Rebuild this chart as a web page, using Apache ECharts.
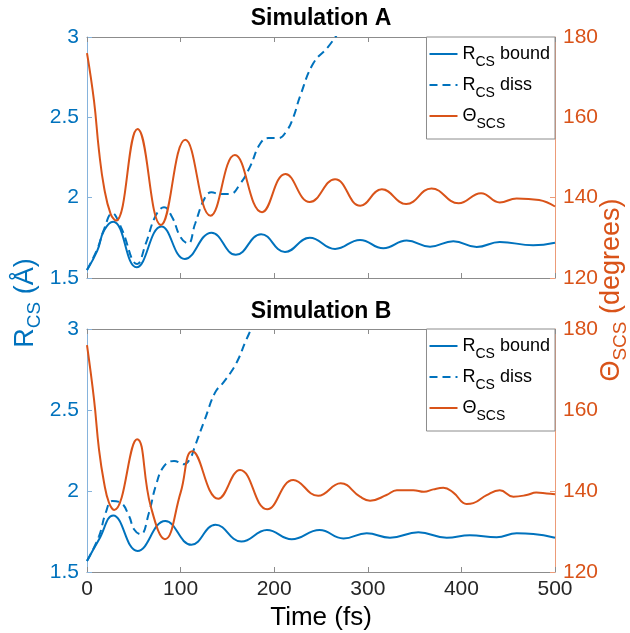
<!DOCTYPE html>
<html><head><meta charset="utf-8">
<script src="https://cdn.jsdelivr.net/npm/echarts@6/dist/echarts.min.js"></script>
<style>html,body{margin:0;padding:0;background:#fff}#c{width:630px;height:633px}</style>
</head><body><div id="c"></div>
<script>
// ---- data ----
const xTickValues = [0, 100, 200, 300, 400, 500];
const leftTickValues = [1.5, 2, 2.5, 3];
const rightTickValues = [120, 140, 160, 180];
const panelTitles = ['Simulation A', 'Simulation B'];
const seriesNames = ['R_CS bound', 'R_CS diss', 'Θ_SCS'];

// Simulation A
const aBoundT = [0, 11, 18.2, 28, 53, 79.5, 104.5, 133, 159, 186, 211.5, 238, 265, 291.7, 316.6, 341.5, 366.5, 391.4, 416.3, 441, 476.7, 500];
const aBoundV = [1.55, 1.67, 1.795, 1.85, 1.567, 1.821, 1.618, 1.782, 1.644, 1.773, 1.662, 1.751, 1.681, 1.737, 1.685, 1.733, 1.695, 1.729, 1.693, 1.724, 1.704, 1.72];
const aDissT = [0, 11, 18, 27, 36, 53.7, 62.7, 73.4, 82.3, 91, 100, 108, 115.4, 126, 133, 142, 152.8, 163.5, 174, 184.8, 193.7, 204.4, 213.4, 220.4, 227.6, 241.8, 257.8, 270];
const aDissV = [1.55, 1.68, 1.80, 1.903, 1.82, 1.587, 1.712, 1.888, 1.94, 1.878, 1.754, 1.715, 1.836, 2.0, 2.033, 2.023, 2.023, 2.085, 2.19, 2.334, 2.371, 2.371, 2.417, 2.50, 2.63, 2.836, 2.94, 3.04];
const aThetaT = [0, 7.5, 12.8, 18.2, 25.3, 31, 54, 79, 105, 132, 158, 187, 212, 238, 265, 292, 315, 341, 368, 397, 421, 441, 459, 483, 500];
const aThetaV = [176, 164.1, 151.7, 142.6, 135.9, 134.3, 157.1, 133.2, 154.4, 135.5, 150.6, 136.4, 145.9, 138.9, 144.6, 138.0, 142.1, 138.4, 142.3, 138.6, 141.1, 138.8, 139.8, 139.4, 137.8];

// Simulation B
const bBoundT = [0, 12.8, 28, 54, 83.6, 111.5, 137.3, 164.9, 192.3, 218.7, 248.5, 274, 298.8, 323.7, 354, 384.3, 409, 437.7, 459, 476.8, 500];
const bBoundV = [1.568, 1.70, 1.849, 1.63, 1.815, 1.668, 1.792, 1.688, 1.759, 1.702, 1.759, 1.707, 1.739, 1.712, 1.745, 1.712, 1.727, 1.714, 1.739, 1.735, 1.712];
const bDissT = [0, 12.8, 20, 27, 36, 44.9, 50.2, 57.3, 66.2, 73.4, 82.3, 93, 103.6, 110.7, 115.4, 126, 136.8, 145.6, 154.6, 161.6, 168.8, 176, 180];
const bDissV = [1.568, 1.72, 1.866, 1.938, 1.928, 1.846, 1.764, 1.733, 1.866, 2.03, 2.154, 2.185, 2.165, 2.206, 2.278, 2.443, 2.607, 2.669, 2.741, 2.813, 2.915, 3.008, 3.06];
const bThetaT = [0, 7.5, 12.8, 18.2, 23.5, 29, 53.5, 68, 83.3, 100, 112.5, 140.3, 163.5, 192.5, 220.4, 247, 271, 291.7, 302.4, 320, 331, 348.6, 360, 370, 380.7, 391.4, 405.6, 412.7, 427, 441, 455.5, 469.7, 480, 491, 500];
const bThetaV = [176, 162.6, 150.3, 142.1, 137.1, 135.3, 152.8, 136.3, 128.1, 139.6, 149.8, 138.1, 145.2, 135.5, 142.7, 138.8, 141.9, 138.6, 137.6, 139.0, 140.2, 140.2, 139.8, 140.4, 140.8, 139.6, 136.8, 137.0, 139.0, 140.2, 138.6, 139.0, 139.6, 139.4, 139.2];

// ---- chart ----
const FONT = '"Liberation Sans", Arial, Helvetica, sans-serif';
const BLUE = '#0072BD', ORANGE = '#D95319';
const BOX = '#8c8c8c', BLUE_AX = '#86b3dc', ORANGE_AX = '#ec9b78';
function pairs(t, v) { return t.map((x, i) => [x, v[i]]); }

const grids = [
  { left: 87, top: 37, width: 468, height: 241 },
  { left: 87, top: 329, width: 468, height: 243 }
];

function xAx(gi, pos, showLabels) {
  return {
    type: 'value', gridIndex: gi, position: pos,
    min: xTickValues[0], max: xTickValues[xTickValues.length - 1],
    interval: xTickValues[1] - xTickValues[0],
    axisLine: { show: true, onZero: false, lineStyle: { color: BOX, width: 1 } },
    axisTick: { show: true, inside: true, length: 5, lineStyle: { color: BOX } },
    axisLabel: { show: showLabels, color: '#262626', fontSize: 21, fontFamily: FONT, margin: 7 },
    splitLine: { show: false }
  };
}
function yAx(gi, pos, ticks, labelColor, lineColor) {
  return {
    type: 'value', gridIndex: gi, position: pos,
    min: ticks[0], max: ticks[ticks.length - 1], interval: ticks[1] - ticks[0],
    axisLine: { show: true, onZero: false, lineStyle: { color: lineColor, width: 1 } },
    axisTick: { show: true, inside: true, length: 5, lineStyle: { color: lineColor } },
    axisLabel: { color: labelColor, fontSize: 21, fontFamily: FONT, margin: 8 },
    splitLine: { show: false }
  };
}

const xAxis = [xAx(0, 'bottom', false), xAx(1, 'bottom', true), xAx(0, 'top', false), xAx(1, 'top', false)];
const yAxis = [
  yAx(0, 'left', leftTickValues, BLUE, BLUE_AX), yAx(0, 'right', rightTickValues, ORANGE, ORANGE_AX),
  yAx(1, 'left', leftTickValues, BLUE, BLUE_AX), yAx(1, 'right', rightTickValues, ORANGE, ORANGE_AX)
];

function line(name, xi, yi, data, color, dashed) {
  return {
    type: 'line', name: name, xAxisIndex: xi, yAxisIndex: yi, data: data,
    smooth: 0.45, symbol: 'none', clip: true,
    lineStyle: { color: color, width: 2, type: dashed ? [8, 5] : 'solid' },
    itemStyle: { color: color }
  };
}
const series = [
  line(seriesNames[0], 0, 0, pairs(aBoundT, aBoundV), BLUE, false),
  line(seriesNames[1], 0, 0, pairs(aDissT, aDissV), BLUE, true),
  line(seriesNames[2], 0, 1, pairs(aThetaT, aThetaV), ORANGE, false),
  line(seriesNames[0], 1, 2, pairs(bBoundT, bBoundV), BLUE, false),
  line(seriesNames[1], 1, 2, pairs(bDissT, bDissV), BLUE, true),
  line(seriesNames[2], 1, 3, pairs(bThetaT, bThetaV), ORANGE, false)
];

const legendRich = {
  m: { fontSize: 18, fontFamily: FONT, color: '#000', lineHeight: 30, verticalAlign: 'middle' },
  s: { fontSize: 14, fontFamily: FONT, color: '#000', lineHeight: 14, verticalAlign: 'bottom' }
};
function legendFmt(n) {
  const p = n.split('_');
  const rest = p[1].split(' ');
  return '{m|' + p[0] + '}{s|' + rest[0] + '}' + (rest[1] ? '{m| ' + rest[1] + '}' : '');
}
function legend(top) {
  return {
    data: seriesNames, orient: 'vertical', right: 75, top: top,
    backgroundColor: '#fff', borderColor: BOX, borderWidth: 1, borderRadius: 0,
    padding: [8, 5, 8, 2], itemGap: 7, itemWidth: 28, itemHeight: 14,
    itemStyle: { opacity: 0 },
    formatter: legendFmt,
    textStyle: { fontFamily: FONT, fontSize: 18, color: '#000', rich: legendRich },
    selectedMode: false
  };
}

function richLabel(x, y, main1, sub, main2, color) {
  return {
    type: 'text', x: x, y: y, rotation: Math.PI / 2, z: 100,
    style: {
      text: '{m|' + main1 + '}{s|' + sub + '}{m|' + main2 + '}',
      align: 'center', verticalAlign: 'middle', textAlign: 'center', textVerticalAlign: 'middle',
      fill: color,
      rich: {
        m: { fontSize: 27, fontFamily: FONT, fill: color, lineHeight: 36, verticalAlign: 'middle' },
        s: { fontSize: 19, fontFamily: FONT, fill: color, lineHeight: 19, verticalAlign: 'bottom' }
      }
    }
  };
}
function plainText(x, y, txt, size, weight) {
  return {
    type: 'text', x: x, y: y, z: 100,
    style: {
      text: txt, fill: '#000', font: weight + ' ' + size + 'px ' + FONT,
      align: 'center', verticalAlign: 'middle', textAlign: 'center', textVerticalAlign: 'middle'
    }
  };
}

const chart = echarts.init(document.getElementById('c'), null, { renderer: 'canvas' });
chart.setOption({
  backgroundColor: '#fff',
  animation: false,
  grid: grids,
  xAxis: xAxis,
  yAxis: yAxis,
  legend: [legend(37), legend(329)],
  series: series,
  graphic: [
    plainText(321, 19, panelTitles[0], 23, 'bold'),
    plainText(321, 312, panelTitles[1], 23, 'bold'),
    plainText(321, 618, 'Time (fs)', 26, 'normal'),
    richLabel(26, 303, 'R', 'CS', ' (Å)', BLUE),
    richLabel(612, 290, 'Θ', 'SCS', ' (degrees)', ORANGE)
  ]
});
</script></body></html>
